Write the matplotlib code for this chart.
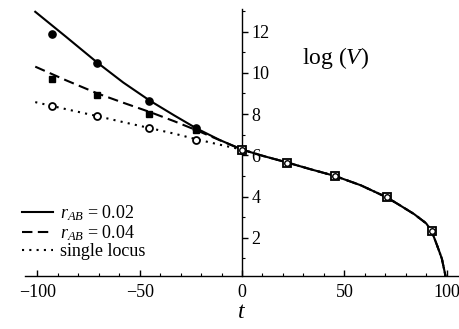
import matplotlib
matplotlib.use("Agg")
import matplotlib.pyplot as plt
from matplotlib.ticker import MultipleLocator

plt.rcParams['font.family'] = ['Liberation Serif', 'DejaVu Serif']
plt.rcParams['mathtext.fontset'] = 'custom'
plt.rcParams['mathtext.rm'] = 'Liberation Serif'
plt.rcParams['mathtext.it'] = 'Liberation Serif:italic'

# curves (left branch differs, right branch shared)
t_left = [-101, -86, -70.6, -58, -45, -33, -22.3, -11, 0]
y_r002 = [12.96, 11.75, 10.49, 9.53, 8.65, 7.93, 7.31, 6.75, 6.28]
y_r004 = [10.30, 9.64, 9.00, 8.55, 8.10, 7.65, 7.22, 6.74, 6.28]
y_single = [8.58, 8.24, 7.90, 7.61, 7.32, 7.05, 6.78, 6.52, 6.28]
t_right = [0, 10, 22.2, 33, 45.4, 58, 70.6, 76.8, 84.1, 89.9, 92.6, 95.5, 97.6, 99.1, 99.6]
y_right = [6.28, 5.98, 5.65, 5.34, 5.0, 4.55, 3.97, 3.60, 3.15, 2.71, 2.34, 1.58, 1.0, 0.3, 0.0]

# simulated points
t_pts_left = [-92.7, -70.6, -45.2, -22.3]
circ_filled = [11.87, 10.49, 8.65, 7.31]
sq_filled = [9.70, 8.93, 8.01, 7.23]
t_open = [-92.7, -70.6, -45.2, -22.3, 0]
circ_open = [8.40, 7.93, 7.34, 6.75, 6.24]
t_pts_right = [0, 22.2, 45.4, 70.6, 92.6]
y_pts_right = [6.24, 5.65, 5.0, 3.97, 2.34]

labels = [r'$r_{AB}$ = 0.02', r'$r_{AB}$ = 0.04', 'single locus']

fig = plt.figure(figsize=(4.59, 3.29), dpi=100)
ax = fig.add_axes([0.0545, 0.161, 0.9455, 0.812])

lw = 1.5
ax.plot(t_left + t_right[1:], y_r002 + y_right[1:], color='black', lw=lw, label=labels[0])
ax.plot(t_left + t_right[1:], y_r004 + y_right[1:], color='black', lw=lw,
        linestyle=(0, (5, 2.6)), label=labels[1])
ax.plot(t_left + t_right[1:], y_single + y_right[1:], color='black', lw=lw,
        linestyle=(0, (1, 2.5)), label=labels[2])

ax.plot(t_pts_left, circ_filled, 'o', color='black', ms=5.2, zorder=4)
ax.plot(t_pts_left, sq_filled, 's', color='black', ms=5.0, zorder=4)
ax.plot(t_open, circ_open, 'o', mfc='white', mec='black', mew=1.3, ms=5.0, zorder=5)
ax.plot(t_pts_right, y_pts_right, 's', mfc='white', mec='black', mew=1.3, ms=5.2, zorder=5)
ax.plot(t_pts_right, y_pts_right, 'o', mfc='white', mec='black', mew=1.0, ms=4.0, zorder=6)

ax.set_xlim(-106, 106)
ax.set_ylim(0.15, 13.1)

ax.spines['top'].set_visible(False)
ax.spines['left'].set_visible(False)
ax.spines['right'].set_position(('data', 0))
ax.spines['right'].set_linewidth(1.0)
ax.spines['bottom'].set_linewidth(1.0)
ax.yaxis.tick_right()

ax.xaxis.set_major_locator(MultipleLocator(50))
ax.xaxis.set_minor_locator(MultipleLocator(10))
ax.yaxis.set_major_locator(MultipleLocator(2))
ax.yaxis.set_minor_locator(MultipleLocator(1))
ax.set_yticks([2, 4, 6, 8, 10, 12])
ax.tick_params(axis='x', which='major', direction='in', length=4, width=1, labelsize=13, pad=6)
ax.tick_params(axis='x', which='minor', direction='in', length=2.5, width=0.8)
ax.tick_params(axis='y', which='major', direction='out', length=4, width=1, labelsize=13, pad=3)
ax.tick_params(axis='y', which='minor', direction='out', length=2.5, width=0.8)

ax.text(45.6, 10.72, r'log ($V$)', fontsize=17, ha='center', va='center')
fig.text(242 / 459, 1 - 313 / 329, r'$t$', fontsize=17, ha='center', va='center')

leg = ax.legend(loc='lower left', bbox_to_anchor=(-0.031, 0.02), frameon=False, fontsize=13,
                handlelength=1.67, handletextpad=0.4, labelspacing=0.0, borderaxespad=0.2)

fig.savefig('out.png', dpi=100)
